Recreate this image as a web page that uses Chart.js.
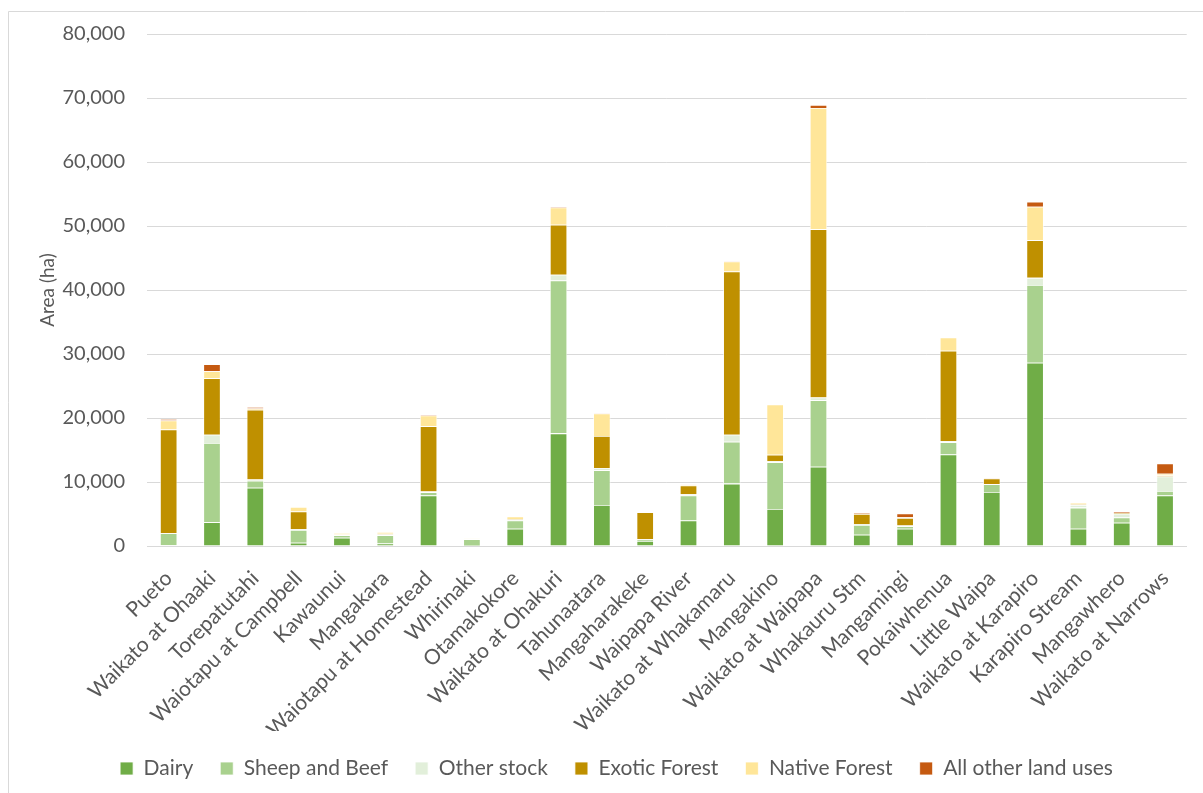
<!DOCTYPE html>
<html>
<head>
<meta charset="utf-8">
<script src="https://cdn.jsdelivr.net/npm/chart.js@4/dist/chart.umd.min.js"></script>
<style>
  html, body { margin: 0; padding: 0; background: #ffffff; }
  #wrap { position: relative; width: 1203px; height: 793px; }
  canvas { display: block; }
</style>
</head>
<body>
<div id="wrap"><canvas id="c" width="1203" height="793"></canvas></div>
<script>
const categories = ['Pueto','Waikato at Ohaaki','Torepatutahi','Waiotapu at Campbell','Kawaunui','Mangakara','Waiotapu at Homestead','Whirinaki','Otamakokore','Waikato at Ohakuri','Tahunaatara','Mangaharakeke','Waipapa River','Waikato at Whakamaru','Mangakino','Waikato at Waipapa','Whakauru Stm','Mangamingi','Pokaiwhenua','Little Waipa','Waikato at Karapiro','Karapiro Stream','Mangawhero','Waikato at Narrows'];
const dairy      = [100,3700,9100,500,1300,400,7900,50,2700,17600,6400,800,4000,9750,5800,12400,1750,2700,14300,8450,28650,2700,3650,7900];
const sheepBeef  = [1900,12400,1100,2000,400,1300,500,1000,1300,23900,5450,200,3900,6550,7300,10400,1550,400,1900,1200,12150,3300,800,700];
const otherStock = [0,1300,200,100,50,100,100,50,100,900,350,50,200,1100,150,400,100,100,200,50,1100,400,600,2250];
const exotic     = [16200,8800,10900,2800,50,100,10200,0,100,7800,5000,4250,1350,25500,1000,26300,1600,1200,14100,850,5900,100,100,150];
const native     = [1400,1100,200,700,250,300,1700,50,400,2700,3500,50,200,1550,7850,18950,50,100,2100,50,5200,250,50,300];
const otherUses  = [250,1100,200,0,0,0,100,0,0,100,50,0,100,50,0,450,150,600,50,50,800,0,200,1600];
const yTicks = [0,10000,20000,30000,40000,50000,60000,70000,80000];

const seriesNames = ['Dairy','Sheep and Beef','Other stock','Exotic Forest','Native Forest','All other land uses'];
const seriesData = [dairy, sheepBeef, otherStock, exotic, native, otherUses];
const seriesColors = ['#70AD47','#A9D18E','#E2EFDA','#BF9000','#FFE699','#C55A11'];

const FONT = 'Lato, "Open Sans", sans-serif';
const TXT = '#595959';

const framePlugin = {
  id: 'frame',
  beforeDraw(chart) {
    const ctx = chart.ctx;
    ctx.save();
    ctx.fillStyle = '#ffffff';
    ctx.fillRect(0, 0, chart.width, chart.height);
    ctx.strokeStyle = '#d9d9d9';
    ctx.lineWidth = 1;
    ctx.beginPath();
    ctx.moveTo(8.5, chart.height);
    ctx.lineTo(8.5, 11.5);
    ctx.lineTo(chart.width, 11.5);
    ctx.stroke();
    ctx.restore();
  }
};

new Chart(document.getElementById('c'), {
  type: 'bar',
  data: {
    labels: categories,
    datasets: seriesNames.map((n, i) => ({
      label: n,
      data: seriesData[i],
      backgroundColor: seriesColors[i],
      borderColor: '#ffffff',
      borderWidth: 0.8,
      categoryPercentage: 1.0,
      barPercentage: 0.4
    }))
  },
  options: {
    responsive: false,
    animation: false,
    devicePixelRatio: 1,
    layout: { padding: { top: 21, right: 6, bottom: 4, left: 36 } },
    plugins: {
      legend: {
        position: 'bottom',
        labels: {
          font: { family: FONT, size: 21 },
          color: TXT,
          boxWidth: 13,
          boxHeight: 13,
          padding: 27
        }
      },
      tooltip: { enabled: false }
    },
    scales: {
      x: {
        stacked: true,
        grid: { display: false, drawTicks: false },
        border: { display: true, color: '#d9d9d9', width: 1 },
        ticks: {
          font: { family: FONT, size: 21 },
          color: TXT,
          minRotation: 45,
          maxRotation: 45,
          autoSkip: false,
          padding: 20
        },
        afterFit(scale) { scale.height = 185; }
      },
      y: {
        stacked: true,
        min: 0,
        max: 80000,
        afterBuildTicks(scale) { scale.ticks = yTicks.map(v => ({ value: v })); },
        grid: { color: '#d9d9d9', lineWidth: 1, drawTicks: false },
        border: { display: false },
        ticks: {
          font: { family: FONT, size: 20 },
          color: TXT,
          padding: 22,
          callback: v => v.toLocaleString('en-US')
        },
        title: {
          display: true,
          text: 'Area (ha)',
          font: { family: FONT, size: 19 },
          color: TXT,
          padding: { top: 0, bottom: 0 }
        },
        afterFit(scale) { scale.width = 111; }
      }
    }
  },
  plugins: [framePlugin]
});
</script>
</body>
</html>
